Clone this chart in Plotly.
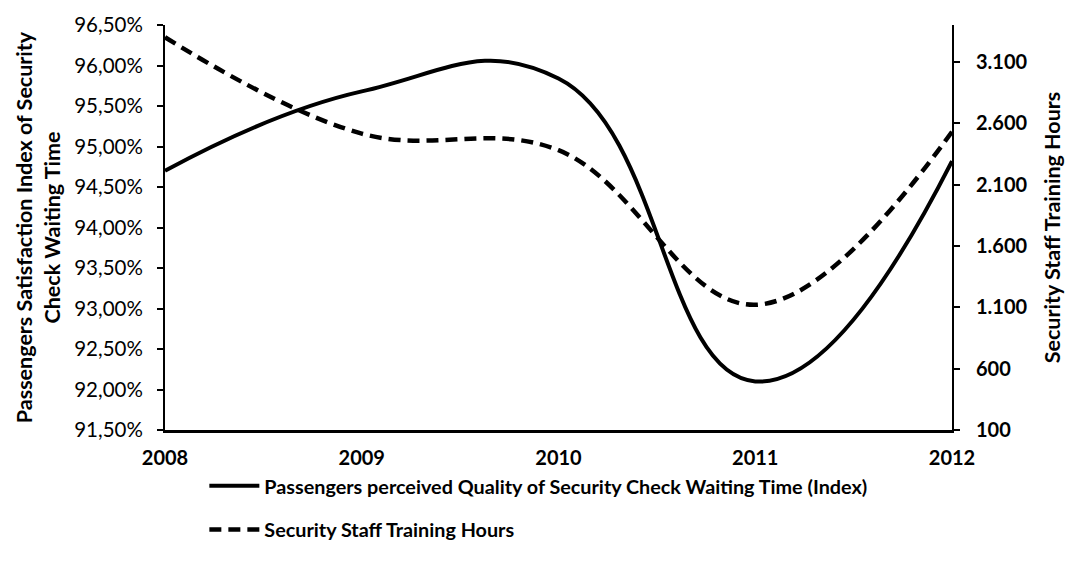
import plotly.graph_objects as go

# Yearly values
years = [2008, 2009, 2010, 2011, 2012]
satisfaction_index = [0.9470, 0.9568, 0.9584, 0.9210, 0.9482]
training_hours = [3300, 2515, 2380, 1120, 2530]

left_ticks = [0.915 + 0.005 * i for i in range(11)]
right_ticks = [100, 600, 1100, 1600, 2100, 2600, 3100]

FONT = "Lato"

fig = go.Figure()

fig.add_trace(go.Scatter(
    x=years, y=satisfaction_index,
    name="Passengers perceived Quality of Security Check Waiting Time (Index)",
    mode="lines",
    line=dict(color="black", width=4, shape="spline", smoothing=1.3),
    legendgroup="a",
    yaxis="y",
))

fig.add_trace(go.Scatter(
    x=years, y=training_hours,
    name="Security Staff Training Hours",
    mode="lines",
    line=dict(color="black", width=4.5, dash="12px,7px", shape="spline", smoothing=1.1),
    legendgroup="b",
    yaxis="y2",
))

fig.update_layout(
    width=1073, height=574,
    margin=dict(l=165, r=116, t=18, b=144),
    paper_bgcolor="white",
    plot_bgcolor="white",
    separators=",.",
    font=dict(family=FONT, color="black"),
    showlegend=True,
    legend=dict(
        x=0.05, y=-0.09, xanchor="left", yanchor="top",
        font=dict(family=FONT, size=19.8, color="black", weight="bold"),
        traceorder="grouped",
        tracegroupgap=15,
        itemwidth=50,
        bgcolor="rgba(0,0,0,0)",
    ),
    xaxis=dict(
        range=[2008, 2012],
        tickvals=years,
        ticktext=[str(y) for y in years],
        showgrid=False, zeroline=False,
        showline=True, linecolor="black", linewidth=3,
        ticks="", ticklabelstandoff=8,
        tickfont=dict(family=FONT, size=20, color="black", weight="bold"),
    ),
    yaxis=dict(
        range=[0.915, 0.965],
        tickvals=left_ticks,
        tickformat=".2%",
        showgrid=False, zeroline=False,
        showline=True, linecolor="black", linewidth=2,
        ticks="outside", ticklen=6, tickwidth=2, tickcolor="black",
        ticklabelstandoff=10,
        tickfont=dict(family=FONT, size=20.5, color="black"),
        title=dict(
            text="Passengers Satisfaction Index of Security<br>Check Waiting Time",
            font=dict(family=FONT, size=21.5, color="black", weight="bold"),
            standoff=8,
        ),
    ),
    yaxis2=dict(
        range=[100, 3400],
        tickvals=right_ticks,
        tickformat=",d",
        overlaying="y", side="right",
        showgrid=False, zeroline=False,
        showline=True, linecolor="black", linewidth=2,
        ticks="outside", ticklen=6, tickwidth=2, tickcolor="black",
        ticklabelstandoff=12,
        tickfont=dict(family=FONT, size=20, color="black", weight="bold"),
        title=dict(
            text="Security Staff Training Hours",
            font=dict(family=FONT, size=21.5, color="black", weight="bold"),
            standoff=18,
        ),
    ),
)

fig.write_html("out.html")
